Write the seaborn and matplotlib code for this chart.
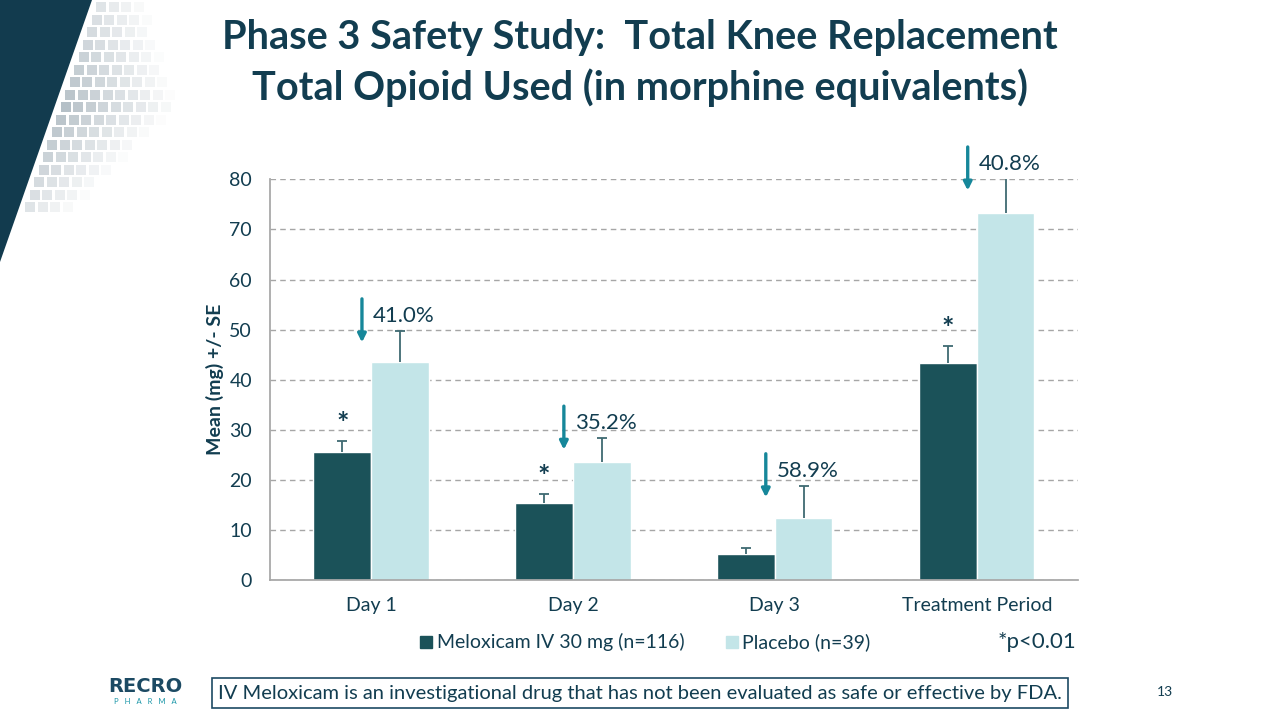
import numpy as np
import pandas as pd
import matplotlib
matplotlib.use("Agg")
import matplotlib.pyplot as plt
from matplotlib.patches import Polygon, Rectangle
import seaborn as sns

sns.set_theme(style="white")
plt.rcParams['font.family'] = ['Lato', 'DejaVu Sans']

# data
periods = ['Day 1', 'Day 2', 'Day 3', 'Treatment Period']
groups = ['Meloxicam IV 30 mg (n=116)', 'Placebo (n=39)']
meloxicam = [25.5, 15.4, 5.2, 43.3]
meloxicam_se = [2.2, 1.8, 1.3, 3.4]
placebo = [43.5, 23.6, 12.4, 73.3]
placebo_se = [6.2, 4.7, 6.4, 7.5]
reductions = ['41.0%', '35.2%', '58.9%', '40.8%']
significant = [True, True, False, True]

dark = '#1b5259'
light = '#c3e5e8'
navy = '#123d50'
teal = '#16879a'
errc = '#3f6a72'

df = pd.DataFrame({
    'period': periods * 2,
    'group': [groups[0]] * 4 + [groups[1]] * 4,
    'value': meloxicam + placebo,
})

fig = plt.figure(figsize=(12.8, 7.2), dpi=100)

# background decoration top-left
bg = fig.add_axes([0, 0, 1, 1], zorder=-5)
bg.set_xlim(0, 1280)
bg.set_ylim(720, 0)
bg.axis('off')
for r in range(17):
    for c in range(13):
        y = 2 + r * 12.5
        x = 92 - y * 0.355 + 5 + c * 12.5
        fade = 1 - c / 9 - abs(r - 8) / 14
        if fade <= 0.03:
            continue
        bg.add_patch(Rectangle((x, y), 10, 10, color='#6d8290', alpha=0.5 * fade, lw=0))
bg.add_patch(Polygon([[0, 0], [92, 0], [0, 262]], closed=True, color='#123b4e', lw=0))

fig.text(0.5, 0.948, 'Phase 3 Safety Study:  Total Knee Replacement', ha='center', va='center',
         fontsize=28.5, fontweight='bold', color=navy)
fig.text(0.5, 0.878, 'Total Opioid Used (in morphine equivalents)', ha='center', va='center',
         fontsize=28.5, fontweight='bold', color=navy)

ax = fig.add_axes([0.211, 0.194, 0.631, 0.557])
sns.barplot(data=df, x='period', y='value', hue='group', palette=[dark, light],
            width=0.57, saturation=1, ax=ax, legend=False)

off = 0.57 / 4
x = np.arange(len(periods))
cap = 0.025
# upper-only error bars
for xs, vals, ses in [(x - off, meloxicam, meloxicam_se), (x + off, placebo, placebo_se)]:
    tops = np.array(vals) + np.array(ses)
    ax.vlines(xs, vals, tops, color=errc, lw=1.3, zorder=3)
    ax.hlines(tops, xs - cap, xs + cap, color=errc, lw=1.3, zorder=3)

for i in range(len(periods)):
    if significant[i]:
        ax.text(x[i] - off, meloxicam[i] + meloxicam_se[i] + 0.8, '*', ha='center', va='bottom',
                fontsize=21, fontweight='bold', color=navy)
    top = min(placebo[i] + placebo_se[i], 80) + 7
    ax.annotate('', xy=(x[i] - 0.045, top - 9.8), xytext=(x[i] - 0.045, top),
                arrowprops=dict(arrowstyle='-|>', color=teal, lw=2.4, mutation_scale=12),
                annotation_clip=False)
    ax.text(x[i] + 0.01, top - 4, reductions[i], ha='left', va='center',
            fontsize=16, color=navy, clip_on=False)

ax.set_ylim(0, 80)
ax.set_xlim(-0.5, 3.5)
ax.set_yticks(range(0, 81, 10))
ax.yaxis.grid(True, linestyle=(0, (4, 3)), color='#a6a6a6', lw=1)
ax.set_axisbelow(True)
for s in ['top', 'right']:
    ax.spines[s].set_visible(False)
ax.spines['left'].set_color('#a6a6a6')
ax.spines['bottom'].set_color('#a6a6a6')
ax.tick_params(axis='y', length=0, labelsize=14, labelcolor=navy, pad=13)
ax.tick_params(axis='x', length=0, labelsize=14, labelcolor=navy, pad=12)
ax.set_xticks(np.arange(-0.5, 3.6, 1), minor=True)
ax.tick_params(axis='x', which='minor', length=9, color='#a6a6a6', direction='out')
ax.set_xlabel('')
ax.set_ylabel('Mean (mg) +/- SE', fontsize=14, fontweight='bold', color=navy, labelpad=4)

# legend
fig.patches.append(Rectangle((420 / 1280, 1 - 648 / 720), 12 / 1280, 12 / 720,
                             transform=fig.transFigure, color=dark))
fig.text(437 / 1280, 1 - 642 / 720, groups[0], ha='left', va='center', fontsize=14, color=navy)
fig.patches.append(Rectangle((726 / 1280, 1 - 648 / 720), 12 / 1280, 12 / 720,
                             transform=fig.transFigure, color=light))
fig.text(742 / 1280, 1 - 642 / 720, groups[1], ha='left', va='center', fontsize=14, color=navy)
fig.text(1076 / 1280, 1 - 642 / 720, '*p<0.01', ha='right', va='center', fontsize=16, color=navy)

# footer
fig.text(145 / 1280, 1 - 687 / 720, 'RECRO', ha='center', va='center', fontsize=14,
         fontweight='bold', family='DejaVu Sans', color='#1c4a63')
fig.text(145 / 1280, 1 - 702 / 720, 'P   H   A   R   M   A', ha='center', va='center', fontsize=5.5,
         color='#1996a8')
fig.text(640 / 1280, 1 - 693 / 720,
         'IV Meloxicam is an investigational drug that has not been evaluated as safe or effective by FDA.',
         ha='center', va='center', fontsize=14.5, color=navy,
         bbox=dict(boxstyle='square,pad=0.3', fc='white', ec='#1c4a63', lw=1.2))
fig.text(1165 / 1280, 1 - 692 / 720, '13', ha='center', va='center', fontsize=10, color=navy)

fig.savefig('out.png', dpi=100)
